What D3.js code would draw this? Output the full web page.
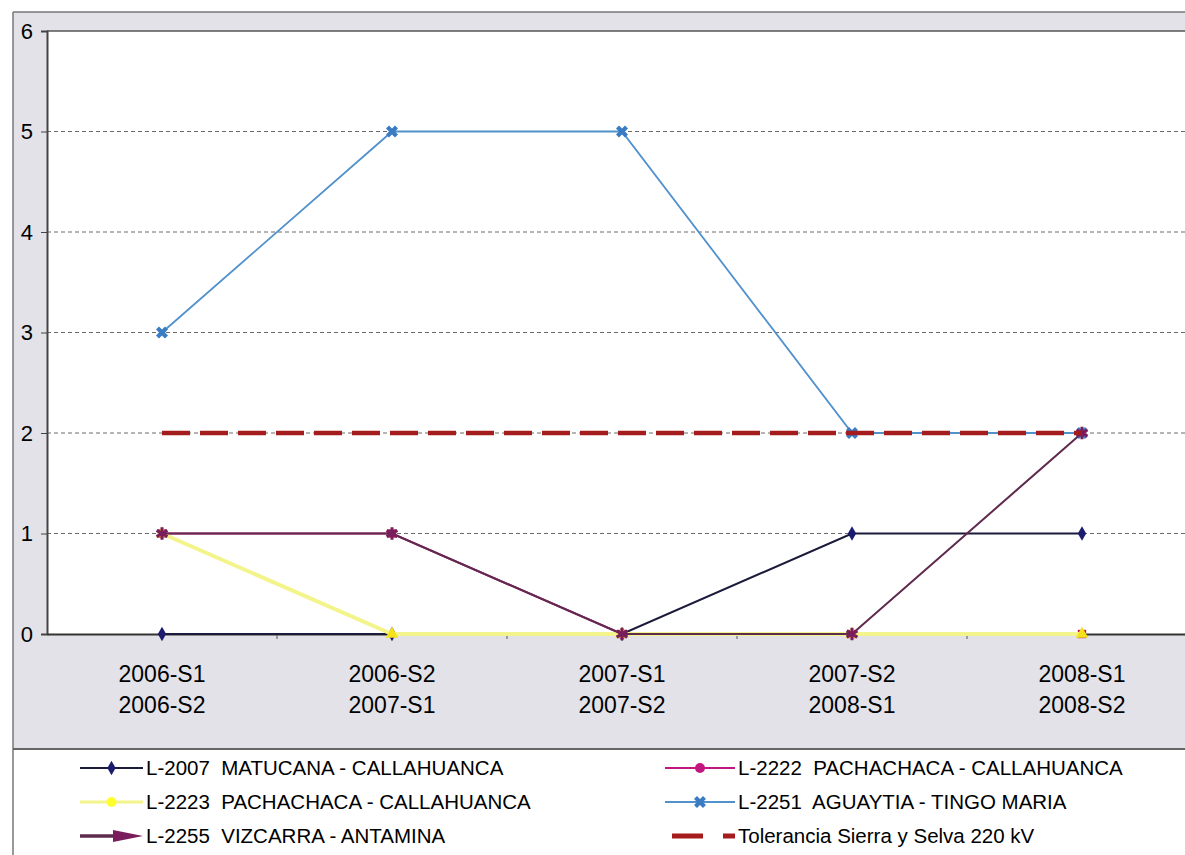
<!DOCTYPE html>
<html><head><meta charset="utf-8">
<script src="https://cdn.jsdelivr.net/npm/d3@7"></script>
<style>body{margin:0;background:#fff;} svg{display:block;font-family:"Liberation Sans",Arial,sans-serif;}</style>
</head><body>
<svg id="c" width="1185" height="855"></svg>
<script>
const categories = [["2006-S1","2006-S2"],["2006-S2","2007-S1"],["2007-S1","2007-S2"],["2007-S2","2008-S1"],["2008-S1","2008-S2"]];
const catKeys = categories.map(c => c.join("/"));
const yTicks = [0,1,2,3,4,5,6];

const L2007 = [0,0,0,1,1];
const L2222 = [1,1,0,0,0];
const L2223 = [1,0,0,0,0];
const L2251 = [3,5,5,2,2];
const L2255 = [1,1,0,0,2];
const Tol   = [2,2,2,2,2];

const seriesNames = ["L-2007  MATUCANA - CALLAHUANCA","L-2222  PACHACHACA - CALLAHUANCA","L-2223  PACHACHACA - CALLAHUANCA","L-2251  AGUAYTIA - TINGO MARIA","L-2255  VIZCARRA - ANTAMINA","Tolerancia Sierra y Selva 220 kV"];

const series = [
  {name: seriesNames[0], values: L2007, color:"#1a1a3a", width:2, marker:"diamond", mcolor:"#1c1c6e"},
  {name: seriesNames[1], values: L2222, color:"#c2177e", width:2, marker:"square", mcolor:"#b8174f"},
  {name: seriesNames[2], values: L2223, color:"#f4f48c", width:4, marker:"triangle", mcolor:"#f5e21a"},
  {name: seriesNames[3], values: L2251, color:"#5191cc", width:1.8, marker:"x", mcolor:"#3a7cc4"},
  {name: seriesNames[4], values: L2255, color:"#5e2b4e", width:2, marker:"star", mcolor:"#7a1d5c"},
  {name: seriesNames[5], values: Tol, color:"#a51c1c", width:4.5, marker:null, dash:"28,10"}
];

const svg = d3.select("#c");
const pLeft = 47, pRight = 1197, pTop = 31, pBottom = 634;

// background frames
svg.append("rect").attr("x",13).attr("y",12).attr("width",1185).attr("height",737).attr("fill","#e2e2e8");
svg.append("rect").attr("x",13).attr("y",749).attr("width",1185).attr("height",120).attr("fill","#fff");
svg.append("line").attr("x1",13).attr("x2",13).attr("y1",12).attr("y2",855).attr("stroke","#777").attr("stroke-width",1.5);
svg.append("line").attr("x1",13).attr("x2",1185).attr("y1",12).attr("y2",12).attr("stroke","#777").attr("stroke-width",1.5);
svg.append("line").attr("x1",13).attr("x2",1185).attr("y1",749).attr("y2",749).attr("stroke","#666").attr("stroke-width",2);

const x = d3.scaleBand().domain(catKeys).range([pLeft,pRight]);
const y = d3.scaleLinear().domain([0,6]).range([pBottom,pTop]);
const cx = k => x(k) + x.bandwidth()/2;

// plot area
svg.append("rect").attr("x",pLeft).attr("y",pTop).attr("width",pRight-pLeft).attr("height",pBottom-pTop).attr("fill","#fff");
svg.append("line").attr("x1",pLeft).attr("x2",pRight).attr("y1",pTop).attr("y2",pTop).attr("stroke","#555").attr("stroke-width",1.5);

// gridlines
svg.append("g").selectAll("line").data(yTicks.filter(t=>t>0 && t<6)).join("line")
  .attr("x1",pLeft).attr("x2",pRight).attr("y1",d=>y(d)).attr("y2",d=>y(d))
  .attr("stroke","#6a6a6a").attr("stroke-width",1).attr("stroke-dasharray","4,3");

// y axis
const yAxis = svg.append("g").attr("transform",`translate(${pLeft},0)`)
  .call(d3.axisLeft(y).tickValues(yTicks).tickSize(6).tickPadding(8).tickFormat(d3.format("d")));
yAxis.select(".domain").attr("stroke","#444").attr("stroke-width",2);
yAxis.selectAll(".tick line").attr("stroke","#444");
yAxis.selectAll("text").attr("font-size",22).attr("fill","#000").attr("font-family","Liberation Sans, Arial, sans-serif").attr("x",-14);

// x axis
const xAxis = svg.append("g").attr("transform",`translate(0,${pBottom})`)
  .call(d3.axisBottom(x).tickSize(0).tickFormat(""));
xAxis.select(".domain").attr("stroke","#333").attr("stroke-width",2);
svg.append("g").selectAll("line").data(catKeys.slice(1)).join("line")
  .attr("x1",d=>x(d)).attr("x2",d=>x(d)).attr("y1",pBottom).attr("y2",pBottom+5).attr("stroke","#555");
const lab = svg.append("g").selectAll("text").data(categories).join("text")
  .attr("x",(d,i)=>cx(catKeys[i])).attr("y",pBottom+48).attr("text-anchor","middle")
  .attr("font-size",23).attr("fill","#000");
lab.append("tspan").attr("x",(d,i)=>cx(catKeys[i])).text(d=>d[0]);
lab.append("tspan").attr("x",(d,i)=>cx(catKeys[i])).attr("dy",31).text(d=>d[1]);

// lines
const line = d3.line().x((d,i)=>cx(catKeys[i])).y(d=>y(d));
function marker(g, type, color, px, py){
  if(!type) return;
  if(type==="diamond") g.append("path").attr("d",d3.symbol(d3.symbolDiamond,60)()).attr("transform",`translate(${px},${py})`).attr("fill",color);
  if(type==="square") g.append("path").attr("d",d3.symbol(d3.symbolSquare,70)()).attr("transform",`translate(${px},${py})`).attr("fill",color);
  if(type==="circle") g.append("circle").attr("cx",px).attr("cy",py).attr("r",5).attr("fill",color);
  if(type==="triangle") g.append("path").attr("d",d3.symbol(d3.symbolTriangle,70)()).attr("transform",`translate(${px},${py})`).attr("fill",color);
  if(type==="x") g.append("path").attr("d",d3.symbol(d3.symbolCross,90)()).attr("transform",`translate(${px},${py}) rotate(45)`).attr("fill",color);
  if(type==="star") g.append("path").attr("d",d3.symbol(d3.symbolAsterisk,110)()).attr("transform",`translate(${px},${py})`).attr("stroke",color).attr("stroke-width",3).attr("fill","none");
}
series.forEach(s=>{
  const g = svg.append("g");
  g.append("path").attr("d",line(s.values)).attr("fill","none").attr("stroke",s.color)
    .attr("stroke-width",s.width).attr("stroke-dasharray",s.dash||null);
  s.values.forEach((v,i)=>marker(g,s.marker,s.mcolor,cx(catKeys[i]),y(v)));
});

// legend
const legendPos = [[80,768],[665,768],[80,802],[665,802],[80,836],[665,836]];
series.forEach((s,i)=>{
  const [lx,ly] = legendPos[i];
  const g = svg.append("g");
  const x0 = lx, x1 = lx + (i%2===0 ? 63 : 70);
  if(i===5){
    g.append("line").attr("x1",x0+7).attr("x2",x0+38).attr("y1",ly).attr("y2",ly).attr("stroke",s.color).attr("stroke-width",5);
    g.append("line").attr("x1",x0+58).attr("x2",x1).attr("y1",ly).attr("y2",ly).attr("stroke",s.color).attr("stroke-width",5);
  } else if(i===4){
    g.append("line").attr("x1",x0).attr("x2",x1-15).attr("y1",ly).attr("y2",ly).attr("stroke",s.color).attr("stroke-width",3.5);
    g.append("path").attr("d",`M${x1-30},${ly-6}L${x1},${ly}L${x1-30},${ly+6}Z`).attr("fill",s.mcolor);
  } else {
    g.append("line").attr("x1",x0).attr("x2",x1).attr("y1",ly).attr("y2",ly).attr("stroke",s.color).attr("stroke-width",i===2?3:1.8);
    const mt = (i===1 || i===2) ? "circle" : s.marker;
    marker(g, mt, i===2?"#ffff30":(i===1?"#c2177e":s.mcolor), (x0+x1)/2, ly);
  }
  g.append("text").attr("x",x1+3).attr("y",ly+7).attr("font-size",20.5).attr("fill","#000")
    .attr("xml:space","preserve").style("white-space","pre").text(s.name);
});
</script>
</body></html>
